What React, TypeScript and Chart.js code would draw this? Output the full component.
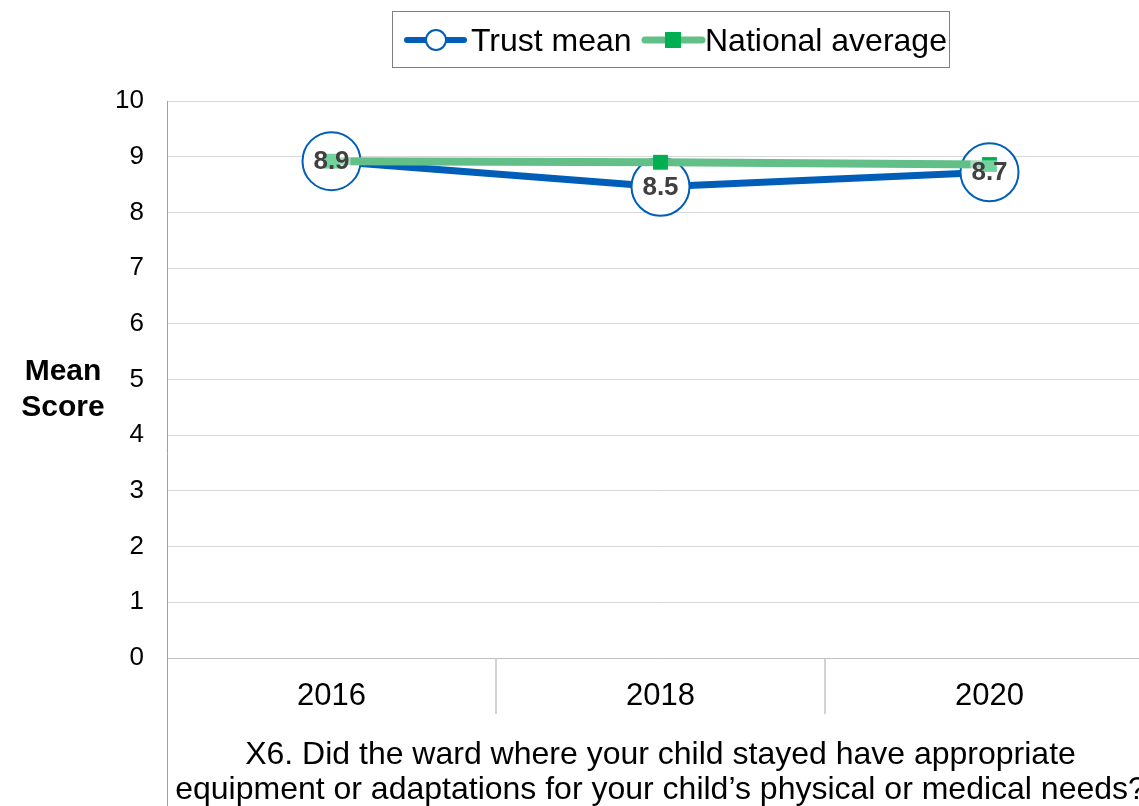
import { useEffect, useRef } from "react";
import { Chart, registerables } from "chart.js";

Chart.register(...registerables);

// ---- data ----
const years = ["2016", "2018", "2020"];
const trustMean = [8.92, 8.46, 8.72];
const nationalAverage = [8.92, 8.9, 8.86];
const seriesNames = ["Trust mean", "National average"];
const yAxisTitle = ["Mean", "Score"];
const xAxisTitle = [
  "X6. Did the ward where your child stayed have appropriate",
  "equipment or adaptations for your child\u2019s physical or medical needs?",
];
const yMin = 0;
const yMax = 10;
const yStep = 1;

// ---- styles ----
const FONT = "'Liberation Sans', Arial, Helvetica, sans-serif";
const BLUE = "#005EB8";
const GREEN_LINE = "#62BF88";
const GREEN_MARK = "#00B050";
const CANVAS_W = 1160;
const CANVAS_H = 806;
const AREA = { left: 167, right: 1154, top: 101, bottom: 658 };

const decorPlugin = {
  id: "decor",
  afterDatasetsDraw(chart: any) {
    const ctx = chart.ctx as CanvasRenderingContext2D;
    const meta = chart.getDatasetMeta(0);
    ctx.save();
    ctx.font = `bold 26px ${FONT}`;
    ctx.textAlign = "center";
    ctx.textBaseline = "middle";
    meta.data.forEach((pt: any, i: number) => {
      const t = trustMean[i].toFixed(1);
      const w = ctx.measureText(t).width;
      ctx.fillStyle = "rgba(255,255,255,0.45)";
      ctx.fillRect(pt.x - w / 2 - 1, pt.y - 12, w + 2, 25);
      ctx.fillStyle = "#404040";
      ctx.fillText(t, pt.x, pt.y + 1);
    });
    ctx.restore();
  },
  afterDraw(chart: any) {
    const ctx = chart.ctx as CanvasRenderingContext2D;
    const area = chart.chartArea;
    const xScale = chart.scales.x;
    const H = chart.height;
    ctx.save();

    // left axis line extended down through the category table
    ctx.strokeStyle = "#a0a0a0";
    ctx.lineWidth = 1;
    ctx.beginPath();
    ctx.moveTo(Math.round(area.left) + 0.5, area.top);
    ctx.lineTo(Math.round(area.left) + 0.5, H);
    ctx.stroke();

    // category dividers
    const n = years.length;
    const cw = (area.right - area.left) / n;
    ctx.strokeStyle = "#c4c4c4";
    ctx.lineWidth = 1.5;
    for (let i = 1; i <= n; i++) {
      const x = xScale.getPixelForValue(i - 1) + cw / 2;
      ctx.beginPath();
      ctx.moveTo(x, area.bottom);
      ctx.lineTo(x, area.bottom + 56);
      ctx.stroke();
    }

    // y-axis title (horizontal, bold)
    ctx.fillStyle = "#000";
    ctx.font = `bold 30px ${FONT}`;
    ctx.textAlign = "center";
    ctx.textBaseline = "alphabetic";
    ctx.fillText(yAxisTitle[0], 63, 380);
    ctx.fillText(yAxisTitle[1], 63, 416);

    // x-axis title
    ctx.font = `32px ${FONT}`;
    const cx = (area.left + area.right) / 2;
    ctx.fillText(xAxisTitle[0], cx, 764);
    ctx.fillText(xAxisTitle[1], cx, 799);

    // legend
    ctx.strokeStyle = "#808080";
    ctx.lineWidth = 1;
    ctx.strokeRect(392.5, 11.5, 557, 56);
    const ly = 40;
    ctx.lineCap = "round";
    ctx.strokeStyle = BLUE;
    ctx.lineWidth = 6;
    ctx.beginPath();
    ctx.moveTo(407, ly);
    ctx.lineTo(464, ly);
    ctx.stroke();
    ctx.fillStyle = "#fff";
    ctx.lineWidth = 2;
    ctx.beginPath();
    ctx.arc(436, ly, 10, 0, Math.PI * 2);
    ctx.fill();
    ctx.stroke();
    ctx.strokeStyle = GREEN_LINE;
    ctx.lineWidth = 7;
    ctx.beginPath();
    ctx.moveTo(645, ly);
    ctx.lineTo(702, ly);
    ctx.stroke();
    ctx.fillStyle = GREEN_MARK;
    ctx.fillRect(673 - 8, ly - 8, 16, 16);
    ctx.fillStyle = "#000";
    ctx.font = `32px ${FONT}`;
    ctx.textAlign = "left";
    ctx.fillText(seriesNames[0], 471, 51);
    ctx.fillText(seriesNames[1], 705, 51);

    ctx.restore();
  },
};

export default function App() {
  const canvasRef = useRef<HTMLCanvasElement | null>(null);

  useEffect(() => {
    if (!canvasRef.current) return;
    const chart = new Chart(canvasRef.current, {
      type: "line",
      data: {
        labels: years,
        datasets: [
          {
            label: seriesNames[0],
            data: trustMean,
            borderColor: BLUE,
            borderWidth: 7,
            pointRadius: 29,
            pointHoverRadius: 29,
            pointBackgroundColor: "#ffffff",
            pointBorderColor: BLUE,
            pointBorderWidth: 2,
            tension: 0,
            order: 1,
            clip: false as any,
          },
          {
            label: seriesNames[1],
            data: nationalAverage,
            borderColor: GREEN_LINE,
            borderWidth: 8,
            pointStyle: "rect",
            pointRadius: 10.5,
            pointHoverRadius: 10.5,
            pointBackgroundColor: GREEN_MARK,
            pointBorderColor: GREEN_MARK,
            pointBorderWidth: 0,
            tension: 0,
            order: 0,
            clip: false as any,
          },
        ],
      },
      options: {
        responsive: false,
        maintainAspectRatio: false,
        devicePixelRatio: 1,
        animation: false,
        events: [],
        layout: {
          autoPadding: false,
          padding: { top: AREA.top, right: CANVAS_W - AREA.right, left: 0, bottom: 0 },
        },
        plugins: {
          legend: { display: false },
          tooltip: { enabled: false },
          title: { display: false },
        },
        scales: {
          x: {
            type: "category",
            offset: true,
            grid: { display: false },
            border: { display: false },
            ticks: {
              color: "#000",
              font: { family: FONT, size: 31 },
              padding: 12,
              maxRotation: 0,
              autoSkip: false,
            },
            afterFit(scale: any) {
              scale.height = CANVAS_H - AREA.bottom;
              scale.paddingLeft = 0;
              scale.paddingRight = 0;
            },
          },
          y: {
            min: yMin,
            max: yMax,
            border: { display: false },
            grid: {
              color: (c: any) => (c.tick && c.tick.value === 0 ? "#bfbfbf" : "#d9d9d9"),
              lineWidth: 1,
              drawTicks: false,
            },
            ticks: {
              stepSize: yStep,
              color: "#000",
              font: { family: FONT, size: 26 },
              padding: 23,
            },
            afterFit(scale: any) {
              scale.width = AREA.left;
              scale.paddingTop = 0;
              scale.paddingBottom = 0;
            },
          },
        },
      },
      plugins: [decorPlugin],
    });
    return () => chart.destroy();
  }, []);

  return (
    <div
      style={{
        position: "fixed",
        left: 0,
        top: 0,
        width: 1139,
        height: 806,
        overflow: "hidden",
        background: "#fff",
      }}
    >
      <div style={{ position: "absolute", left: 0, top: 0, width: CANVAS_W, height: CANVAS_H }}>
        <canvas
          ref={canvasRef}
          width={CANVAS_W}
          height={CANVAS_H}
          style={{ display: "block", width: CANVAS_W, height: CANVAS_H }}
        />
      </div>
    </div>
  );
}
